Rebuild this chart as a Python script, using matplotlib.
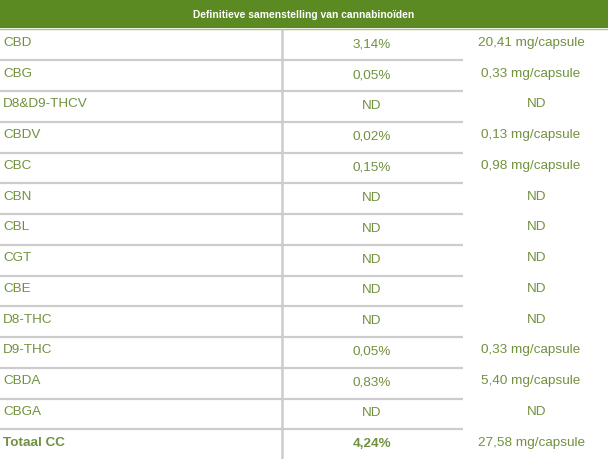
import matplotlib
matplotlib.use("Agg")
import matplotlib.pyplot as plt

title = "Definitieve samenstelling van cannabinoïden"
names = ["CBD", "CBG", "D8&D9-THCV", "CBDV", "CBC", "CBN", "CBL", "CGT", "CBE",
         "D8-THC", "D9-THC", "CBDA", "CBGA", "Totaal CC"]
percent = ["3,14%", "0,05%", "ND", "0,02%", "0,15%", "ND", "ND", "ND", "ND",
           "ND", "0,05%", "0,83%", "ND", "4,24%"]
mg = ["20,41 mg/capsule", "0,33 mg/capsule", "ND", "0,13 mg/capsule", "0,98 mg/capsule",
      "ND", "ND", "ND", "ND", "ND", "0,33 mg/capsule", "5,40 mg/capsule", "ND",
      "27,58 mg/capsule"]

W, H = 608, 459
fig = plt.figure(figsize=(W / 100, H / 100), dpi=100)
ax = fig.add_axes([0, 0, 1, 1])
ax.set_xlim(0, W)
ax.set_ylim(H, 0)
ax.axis("off")

plt.rcParams["font.family"] = ["Liberation Sans", "DejaVu Sans"]

green = "#5b8a22"
text_c = "#71913e"
line_c = "#cccccc"

# header
header_h = 28
ax.add_patch(plt.Rectangle((0, 0), W, header_h, color=green, lw=0))
ax.plot([0, W], [header_h + 0.5, header_h + 0.5], color="#a9c283", lw=1)
ax.text(W / 2, header_h / 2 + 1, title, ha="center", va="center", color="white",
        fontsize=7.35, fontweight="bold", family=["Liberation Sans", "DejaVu Sans"])

row0 = 29.5
row_h = 30.75
n = len(names)
col_x1, col_x2 = 3, 372
col_x3_mg, col_x3_nd = 531, 537
vline_x = 282
hline_end = 463

# vertical separator
ax.plot([vline_x, vline_x], [header_h + 1, H], color=line_c, lw=1.8, solid_capstyle="butt")

for i in range(n):
    yc = row0 + row_h * (i + 0.5) - 2
    bold = names[i].startswith("Totaal")
    ax.text(col_x1, yc, names[i], ha="left", va="center", color=text_c,
            fontsize=9.7, fontweight="bold" if bold else "normal")
    ax.text(col_x2, yc + 1.5, percent[i], ha="center", va="center", color=text_c,
            fontsize=9.7, fontweight="bold" if bold else "normal")
    x3 = col_x3_nd if mg[i] == "ND" else col_x3_mg
    ax.text(x3, yc, mg[i], ha="center", va="center", color=text_c, fontsize=9.7)
    if i < n - 1:
        ys = row0 + row_h * (i + 1)
        ax.plot([0, hline_end], [ys, ys], color=line_c, lw=1.6, solid_capstyle="butt")

fig.savefig("out.png", dpi=100, facecolor="white")
